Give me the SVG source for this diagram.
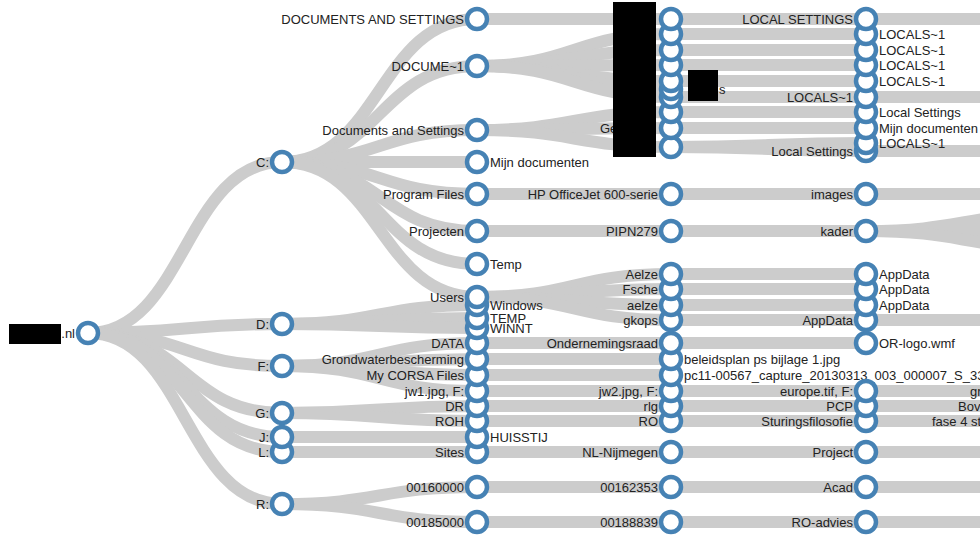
<svg xmlns="http://www.w3.org/2000/svg" width="980" height="538" viewBox="0 0 980 538">
<style>
.link{fill:none;stroke:#ccc;stroke-width:12}
.node circle{fill:#fff;stroke:#4682b4;stroke-width:4.5}
.node text{font-family:"Liberation Sans",Arial,sans-serif;font-size:13px;fill:#222}
.l{text-anchor:end}
.redact{fill:#000}
</style>
<rect width="980" height="538" fill="#fff"/>
<g id="links">
<path class="link" d="M88,333C185,333 185,162 282,162"/>
<path class="link" d="M88,333C185,333 185,324 282,324"/>
<path class="link" d="M88,333C185,333 185,366 282,366"/>
<path class="link" d="M88,333C185,333 185,413 282,413"/>
<path class="link" d="M88,333C185,333 185,437 282,437"/>
<path class="link" d="M88,333C185,333 185,452 282,452"/>
<path class="link" d="M88,333C185,333 185,504 282,504"/>
<path class="link" d="M282,162C379.5,162 379.5,19 477,19"/>
<path class="link" d="M282,162C379.5,162 379.5,66 477,66"/>
<path class="link" d="M282,162C379.5,162 379.5,130 477,130"/>
<path class="link" d="M282,162C379.5,162 379.5,162 477,162"/>
<path class="link" d="M282,162C379.5,162 379.5,194 477,194"/>
<path class="link" d="M282,162C379.5,162 379.5,231 477,231"/>
<path class="link" d="M282,162C379.5,162 379.5,264 477,264"/>
<path class="link" d="M282,162C379.5,162 379.5,297 477,297"/>
<path class="link" d="M282,324C379.5,324 379.5,305 477,305"/>
<path class="link" d="M282,324C379.5,324 379.5,318 477,318"/>
<path class="link" d="M282,324C379.5,324 379.5,328 477,328"/>
<path class="link" d="M282,366C379.5,366 379.5,343 477,343"/>
<path class="link" d="M282,366C379.5,366 379.5,359 477,359"/>
<path class="link" d="M282,366C379.5,366 379.5,375 477,375"/>
<path class="link" d="M282,366C379.5,366 379.5,391 477,391"/>
<path class="link" d="M282,413C379.5,413 379.5,406 477,406"/>
<path class="link" d="M282,413C379.5,413 379.5,421 477,421"/>
<path class="link" d="M282,437C379.5,437 379.5,437 477,437"/>
<path class="link" d="M282,452C379.5,452 379.5,452 477,452"/>
<path class="link" d="M282,504C379.5,504 379.5,487 477,487"/>
<path class="link" d="M282,504C379.5,504 379.5,522 477,522"/>
<path class="link" d="M477,19C574,19 574,19 671,19"/>
<path class="link" d="M477,66C574,66 574,34 671,34"/>
<path class="link" d="M477,66C574,66 574,50 671,50"/>
<path class="link" d="M477,66C574,66 574,65 671,65"/>
<path class="link" d="M477,66C574,66 574,81 671,81"/>
<path class="link" d="M477,66C574,66 574,89 671,89"/>
<path class="link" d="M477,66C574,66 574,97 671,97"/>
<path class="link" d="M477,130C574,130 574,112 671,112"/>
<path class="link" d="M477,130C574,130 574,128 671,128"/>
<path class="link" d="M477,130C574,130 574,147 671,147"/>
<path class="link" d="M477,194C574,194 574,194 671,194"/>
<path class="link" d="M477,231C574,231 574,231 671,231"/>
<path class="link" d="M477,297C574,297 574,274 671,274"/>
<path class="link" d="M477,297C574,297 574,289 671,289"/>
<path class="link" d="M477,297C574,297 574,305 671,305"/>
<path class="link" d="M477,297C574,297 574,320 671,320"/>
<path class="link" d="M477,343C574,343 574,343 671,343"/>
<path class="link" d="M477,359C574,359 574,359 671,359"/>
<path class="link" d="M477,375C574,375 574,375 671,375"/>
<path class="link" d="M477,391C574,391 574,391 671,391"/>
<path class="link" d="M477,406C574,406 574,406 671,406"/>
<path class="link" d="M477,421C574,421 574,421 671,421"/>
<path class="link" d="M477,452C574,452 574,452 671,452"/>
<path class="link" d="M477,487C574,487 574,487 671,487"/>
<path class="link" d="M477,522C574,522 574,522 671,522"/>
<path class="link" d="M671,19C768.5,19 768.5,19 866,19"/>
<path class="link" d="M671,34C768.5,34 768.5,34 866,34"/>
<path class="link" d="M671,50C768.5,50 768.5,50 866,50"/>
<path class="link" d="M671,65C768.5,65 768.5,65 866,65"/>
<path class="link" d="M671,81C768.5,81 768.5,81 866,81"/>
<path class="link" d="M671,97C768.5,97 768.5,97 866,97"/>
<path class="link" d="M671,112C768.5,112 768.5,112 866,112"/>
<path class="link" d="M671,128C768.5,128 768.5,128 866,128"/>
<path class="link" d="M671,147C768.5,147 768.5,143 866,143"/>
<path class="link" d="M671,147C768.5,147 768.5,151 866,151"/>
<path class="link" d="M671,194C768.5,194 768.5,194 866,194"/>
<path class="link" d="M671,231C768.5,231 768.5,231 866,231"/>
<path class="link" d="M671,274C768.5,274 768.5,274 866,274"/>
<path class="link" d="M671,289C768.5,289 768.5,289 866,289"/>
<path class="link" d="M671,305C768.5,305 768.5,305 866,305"/>
<path class="link" d="M671,320C768.5,320 768.5,320 866,320"/>
<path class="link" d="M671,343C768.5,343 768.5,343 866,343"/>
<path class="link" d="M671,391C768.5,391 768.5,391 866,391"/>
<path class="link" d="M671,406C768.5,406 768.5,406 866,406"/>
<path class="link" d="M671,421C768.5,421 768.5,421 866,421"/>
<path class="link" d="M671,452C768.5,452 768.5,452 866,452"/>
<path class="link" d="M671,487C768.5,487 768.5,487 866,487"/>
<path class="link" d="M671,522C768.5,522 768.5,522 866,522"/>
<path class="link" d="M866,19C963,19 963,19 1060,19"/>
<path class="link" d="M866,97C963,97 963,97 1060,97"/>
<path class="link" d="M866,151C963,151 963,151 1060,151"/>
<path class="link" d="M866,194C963,194 963,194 1060,194"/>
<path class="link" d="M866,231C963,231 963,214 1060,214"/>
<path class="link" d="M866,231C963,231 963,231 1060,231"/>
<path class="link" d="M866,231C963,231 963,248 1060,248"/>
<path class="link" d="M866,320C963,320 963,320 1060,320"/>
<path class="link" d="M866,391C963,391 963,391 1060,391"/>
<path class="link" d="M866,406C963,406 963,406 1060,406"/>
<path class="link" d="M866,421C963,421 963,421 1060,421"/>
<path class="link" d="M866,452C963,452 963,452 1060,452"/>
<path class="link" d="M866,487C963,487 963,487 1060,487"/>
<path class="link" d="M866,522C963,522 963,522 1060,522"/>
</g>
<g id="nodes">
<g id="n-root" class="node" transform="translate(88,333)"><circle r="10"/><text class="l" x="-13" dy=".35em">.nl</text></g>

<g id="n-R" class="node" transform="translate(282,504)"><circle r="10"/><text class="l" x="-13" dy=".35em">R:</text></g>
<g id="n-L" class="node" transform="translate(282,452)"><circle r="10"/><text class="l" x="-13" dy=".35em">L:</text></g>
<g id="n-J" class="node" transform="translate(282,437)"><circle r="10"/><text class="l" x="-13" dy=".35em">J:</text></g>
<g id="n-G" class="node" transform="translate(282,413)"><circle r="10"/><text class="l" x="-13" dy=".35em">G:</text></g>
<g id="n-F" class="node" transform="translate(282,366)"><circle r="10"/><text class="l" x="-13" dy=".35em">F:</text></g>
<g id="n-D" class="node" transform="translate(282,324)"><circle r="10"/><text class="l" x="-13" dy=".35em">D:</text></g>
<g id="n-C" class="node" transform="translate(282,162)"><circle r="10"/><text class="l" x="-13" dy=".35em">C:</text></g>

<g id="n2-00185000" class="node" transform="translate(477,522)"><circle r="10"/><text class="l" x="-13" dy=".35em">00185000</text></g>
<g id="n2-00160000" class="node" transform="translate(477,487)"><circle r="10"/><text class="l" x="-13" dy=".35em">00160000</text></g>
<g id="n2-sites" class="node" transform="translate(477,452)"><circle r="10"/><text class="l" x="-13" dy=".35em">Sites</text></g>
<g id="n2-huisstij" class="node" transform="translate(477,437)"><circle r="10"/><text x="13" dy=".35em">HUISSTIJ</text></g>
<g id="n2-roh" class="node" transform="translate(477,421)"><circle r="10"/><text class="l" x="-13" dy=".35em">ROH</text></g>
<g id="n2-dr" class="node" transform="translate(477,406)"><circle r="10"/><text class="l" x="-13" dy=".35em">DR</text></g>
<g id="n2-jw1" class="node" transform="translate(477,391)"><circle r="10"/><text class="l" x="-13" dy=".35em">jw1.jpg, F:</text></g>
<g id="n2-corsa" class="node" transform="translate(477,375)"><circle r="10"/><text class="l" x="-13" dy=".35em">My CORSA Files</text></g>
<g id="n2-grond" class="node" transform="translate(477,359)"><circle r="10"/><text class="l" x="-13" dy=".35em">Grondwaterbescherming</text></g>
<g id="n2-data" class="node" transform="translate(477,343)"><circle r="10"/><text class="l" x="-13" dy=".35em">DATA</text></g>
<g id="n2-winnt" class="node" transform="translate(477,328)"><circle r="10"/><text x="13" dy=".35em">WINNT</text></g>
<g id="n2-temp2" class="node" transform="translate(477,318)"><circle r="10"/><text x="13" dy=".35em">TEMP</text></g>
<g id="n2-windows" class="node" transform="translate(477,305)"><circle r="10"/><text x="13" dy=".35em">Windows</text></g>
<g id="n2-users" class="node" transform="translate(477,297)"><circle r="10"/><text class="l" x="-13" dy=".35em">Users</text></g>
<g id="n2-temp" class="node" transform="translate(477,264)"><circle r="10"/><text x="13" dy=".35em">Temp</text></g>
<g id="n2-projecten" class="node" transform="translate(477,231)"><circle r="10"/><text class="l" x="-13" dy=".35em">Projecten</text></g>
<g id="n2-progfiles" class="node" transform="translate(477,194)"><circle r="10"/><text class="l" x="-13" dy=".35em">Program Files</text></g>
<g id="n2-mijndoc" class="node" transform="translate(477,162)"><circle r="10"/><text x="13" dy=".35em">Mijn documenten</text></g>
<g id="n2-docset" class="node" transform="translate(477,130)"><circle r="10"/><text class="l" x="-13" dy=".35em">Documents and Settings</text></g>
<g id="n2-docume1" class="node" transform="translate(477,66)"><circle r="10"/><text class="l" x="-13" dy=".35em">DOCUME~1</text></g>
<g id="n2-DOCSET" class="node" transform="translate(477,19)"><circle r="10"/><text class="l" x="-13" dy=".35em">DOCUMENTS AND SETTINGS</text></g>

<g id="n3-00188839" class="node" transform="translate(671,522)"><circle r="10"/><text class="l" x="-13" dy=".35em">00188839</text></g>
<g id="n3-00162353" class="node" transform="translate(671,487)"><circle r="10"/><text class="l" x="-13" dy=".35em">00162353</text></g>
<g id="n3-nijmegen" class="node" transform="translate(671,452)"><circle r="10"/><text class="l" x="-13" dy=".35em">NL-Nijmegen</text></g>
<g id="n3-ro" class="node" transform="translate(671,421)"><circle r="10"/><text class="l" x="-13" dy=".35em">RO</text></g>
<g id="n3-rlg" class="node" transform="translate(671,406)"><circle r="10"/><text class="l" x="-13" dy=".35em">rlg</text></g>
<g id="n3-jw2" class="node" transform="translate(671,391)"><circle r="10"/><text class="l" x="-13" dy=".35em">jw2.jpg, F:</text></g>
<g id="n3-pc11" class="node" transform="translate(671,375)"><circle r="10"/><text x="13" dy=".35em">pc11-00567_capture_20130313_003_000007_S_33</text></g>
<g id="n3-beleid" class="node" transform="translate(671,359)"><circle r="10"/><text x="13" dy=".35em">beleidsplan ps bijlage 1.jpg</text></g>
<g id="n3-or" class="node" transform="translate(671,343)"><circle r="10"/><text class="l" x="-13" dy=".35em">Ondernemingsraad</text></g>
<g id="n3-gkops" class="node" transform="translate(671,320)"><circle r="10"/><text class="l" x="-13" dy=".35em">gkops</text></g>
<g id="n3-aelze" class="node" transform="translate(671,305)"><circle r="10"/><text class="l" x="-13" dy=".35em">aelze</text></g>
<g id="n3-fsche" class="node" transform="translate(671,289)"><circle r="10"/><text class="l" x="-13" dy=".35em">Fsche</text></g>
<g id="n3-Aelze" class="node" transform="translate(671,274)"><circle r="10"/><text class="l" x="-13" dy=".35em">Aelze</text></g>
<g id="n3-pipn" class="node" transform="translate(671,231)"><circle r="10"/><text class="l" x="-13" dy=".35em">PIPN279</text></g>
<g id="n3-hp" class="node" transform="translate(671,194)"><circle r="10"/><text class="l" x="-13" dy=".35em">HP OfficeJet 600-serie</text></g>
<g id="n3-147" class="node" transform="translate(671,147)"><circle r="10"/></g>
<g id="n3-128" class="node" transform="translate(671,128)"><circle r="10"/><text x="-71" dy=".35em">Ge</text></g>
<g id="n3-112" class="node" transform="translate(671,112)"><circle r="10"/></g>
<g id="n3-97" class="node" transform="translate(671,97)"><circle r="10"/></g>
<g id="n3-89" class="node" transform="translate(671,89)"><circle r="10"/><text x="48" dy=".35em">s</text></g>
<g id="n3-81" class="node" transform="translate(671,81)"><circle r="10"/></g>
<g id="n3-65" class="node" transform="translate(671,65)"><circle r="10"/></g>
<g id="n3-50" class="node" transform="translate(671,50)"><circle r="10"/></g>
<g id="n3-34" class="node" transform="translate(671,34)"><circle r="10"/></g>
<g id="n3-19" class="node" transform="translate(671,19)"><circle r="10"/></g>

<g id="n4-roadvies" class="node" transform="translate(866,522)"><circle r="10"/><text class="l" x="-13" dy=".35em">RO-advies</text></g>
<g id="n4-acad" class="node" transform="translate(866,487)"><circle r="10"/><text class="l" x="-13" dy=".35em">Acad</text></g>
<g id="n4-project" class="node" transform="translate(866,452)"><circle r="10"/><text class="l" x="-13" dy=".35em">Project</text></g>
<g id="n4-sturing" class="node" transform="translate(866,421)"><circle r="10"/><text class="l" x="-13" dy=".35em">Sturingsfilosofie</text></g>
<g id="n4-pcp" class="node" transform="translate(866,406)"><circle r="10"/><text class="l" x="-13" dy=".35em">PCP</text></g>
<g id="n4-europe" class="node" transform="translate(866,391)"><circle r="10"/><text class="l" x="-13" dy=".35em">europe.tif, F:</text></g>
<g id="n4-orlogo" class="node" transform="translate(866,343)"><circle r="10"/><text x="13" dy=".35em">OR-logo.wmf</text></g>
<g id="n4-appdata4" class="node" transform="translate(866,320)"><circle r="10"/><text class="l" x="-13" dy=".35em">AppData</text></g>
<g id="n4-appdata3" class="node" transform="translate(866,305)"><circle r="10"/><text x="13" dy=".35em">AppData</text></g>
<g id="n4-appdata2" class="node" transform="translate(866,289)"><circle r="10"/><text x="13" dy=".35em">AppData</text></g>
<g id="n4-appdata1" class="node" transform="translate(866,274)"><circle r="10"/><text x="13" dy=".35em">AppData</text></g>
<g id="n4-kader" class="node" transform="translate(866,231)"><circle r="10"/><text class="l" x="-13" dy=".35em">kader</text></g>
<g id="n4-images" class="node" transform="translate(866,194)"><circle r="10"/><text class="l" x="-13" dy=".35em">images</text></g>
<g id="n4-ls2" class="node" transform="translate(866,151)"><circle r="10"/><text class="l" x="-13" dy=".35em">Local Settings</text></g>
<g id="n4-locals5" class="node" transform="translate(866,143)"><circle r="10"/><text x="13" dy=".35em">LOCALS~1</text></g>
<g id="n4-mijndoc" class="node" transform="translate(866,128)"><circle r="10"/><text x="13" dy=".35em">Mijn documenten</text></g>
<g id="n4-ls1" class="node" transform="translate(866,112)"><circle r="10"/><text x="13" dy=".35em">Local Settings</text></g>
<g id="n4-localsL" class="node" transform="translate(866,97)"><circle r="10"/><text class="l" x="-13" dy=".35em">LOCALS~1</text></g>
<g id="n4-locals4" class="node" transform="translate(866,81)"><circle r="10"/><text x="13" dy=".35em">LOCALS~1</text></g>
<g id="n4-locals3" class="node" transform="translate(866,65)"><circle r="10"/><text x="13" dy=".35em">LOCALS~1</text></g>
<g id="n4-locals2" class="node" transform="translate(866,50)"><circle r="10"/><text x="13" dy=".35em">LOCALS~1</text></g>
<g id="n4-locals1" class="node" transform="translate(866,34)"><circle r="10"/><text x="13" dy=".35em">LOCALS~1</text></g>
<g id="n4-LOCALSET" class="node" transform="translate(866,19)"><circle r="10"/><text class="l" x="-13" dy=".35em">LOCAL SETTINGS</text></g>

<g id="n5-fase" class="node" transform="translate(1060,421)"><circle r="10"/><text x="-128" dy=".35em">fase 4 st</text></g>
<g id="n5-bov" class="node" transform="translate(1060,406)"><circle r="10"/><text x="-102" dy=".35em">Bov</text></g>
<g id="n5-gr" class="node" transform="translate(1060,391)"><circle r="10"/><text x="-90" dy=".35em">gr</text></g>
</g>
<g id="redactions">
<rect class="redact" x="9" y="324" width="52" height="20"/>
<rect class="redact" x="613" y="2" width="43" height="155"/>
<rect class="redact" x="688" y="70" width="30" height="31"/>
</g>
</svg>
